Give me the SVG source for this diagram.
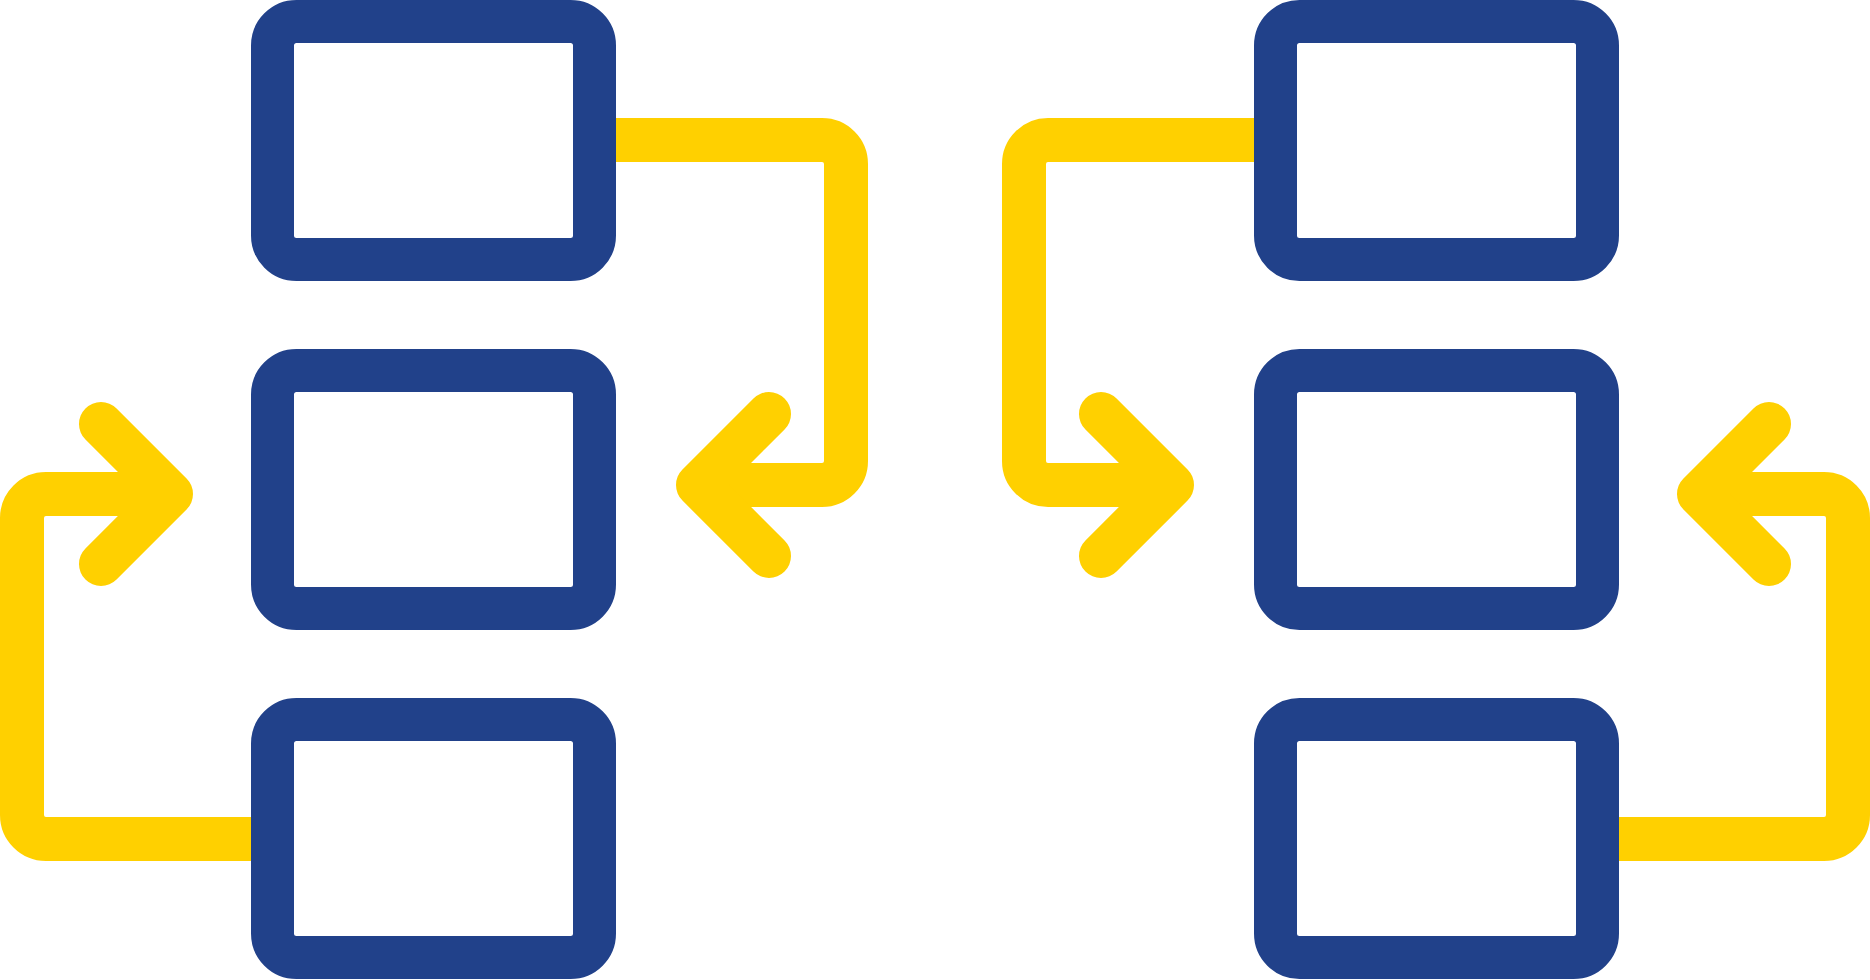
<svg xmlns="http://www.w3.org/2000/svg" width="1870" height="980" viewBox="0 0 1870 980">
<style>
.box{fill:none;stroke:#21418A;stroke-width:43}
.con{fill:none;stroke:#FFD000;stroke-width:44;stroke-linejoin:round}
.arr{fill:none;stroke:#FFD000;stroke-width:44;stroke-linecap:round;stroke-linejoin:round}
</style>
<rect width="1870" height="980" fill="#FFFFFF"/>
<g id="connectors">
<path class="con" d="M594 140 H822 A24 24 0 0 1 846 164 V461 A24 24 0 0 1 822 485 H700"/>
<path class="arr" d="M769 414 L698 485 L769 556"/>
<path class="con" d="M273 839 H46 A24 24 0 0 1 22 815 V518 A24 24 0 0 1 46 494 H168"/>
<path class="arr" d="M101 424 L171 494 L101 564"/>
<path class="con" d="M1276 140 H1048 A24 24 0 0 0 1024 164 V461 A24 24 0 0 0 1048 485 H1170"/>
<path class="arr" d="M1101 414 L1172 485 L1101 556"/>
<path class="con" d="M1597 839 H1824 A24 24 0 0 0 1848 815 V518 A24 24 0 0 0 1824 494 H1702"/>
<path class="arr" d="M1769 424 L1699 494 L1769 564"/>
</g>
<g id="box-l1"><rect class="box" x="272.5" y="21.5" width="322" height="238" rx="24"/></g>
<g id="box-l2"><rect class="box" x="272.5" y="370.5" width="322" height="238" rx="24"/></g>
<g id="box-l3"><rect class="box" x="272.5" y="719.5" width="322" height="238" rx="24"/></g>
<g id="box-r1"><rect class="box" x="1275.5" y="21.5" width="322" height="238" rx="24"/></g>
<g id="box-r2"><rect class="box" x="1275.5" y="370.5" width="322" height="238" rx="24"/></g>
<g id="box-r3"><rect class="box" x="1275.5" y="719.5" width="322" height="238" rx="24"/></g>
</svg>
